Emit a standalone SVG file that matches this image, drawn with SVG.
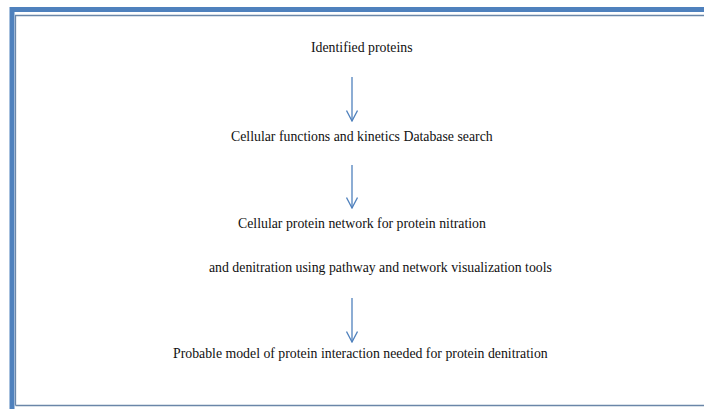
<svg xmlns="http://www.w3.org/2000/svg" width="704" height="409" viewBox="0 0 704 409">
<style>
text{font-family:'Liberation Serif','Times New Roman',serif;font-size:13.8px;fill:#111}
.a{stroke:#4f81bd;stroke-width:1.3;fill:none}
</style>
<defs>
<marker id="ah" viewBox="0 0 12 12" refX="11" refY="6" markerWidth="12" markerHeight="12" markerUnits="userSpaceOnUse" orient="auto">
<path d="M0.5,0.5 L11,6 L0.5,11.5" fill="none" stroke="#4f81bd" stroke-width="1.3"/>
</marker>
</defs>
<rect width="704" height="409" fill="#fff"/>
<g id="frame">
<path d="M12,409 V9.5 H704" fill="none" stroke="#4f81bd" stroke-width="5"/>
<path d="M15.5,405.5 V15.5 H704 M15.5,405.5 H704" fill="none" stroke="#6a86a8" stroke-width="1.3"/>
</g>
<g id="n1"><text x="311" y="52">Identified proteins</text></g>
<g id="n2"><text x="231" y="141">Cellular functions and kinetics Database search</text></g>
<g id="n3"><text x="238" y="228">Cellular protein network for protein nitration</text>
<text x="209" y="272">and denitration using pathway and network visualization tools</text></g>
<g id="n4"><text x="173" y="358">Probable model of protein interaction needed for protein denitration</text></g>
<g id="connectors">
<line class="a" x1="352" y1="77" x2="352" y2="121" marker-end="url(#ah)"/>
<line class="a" x1="352" y1="165" x2="352" y2="208" marker-end="url(#ah)"/>
<line class="a" x1="352" y1="298" x2="352" y2="342" marker-end="url(#ah)"/>
</g>
</svg>
